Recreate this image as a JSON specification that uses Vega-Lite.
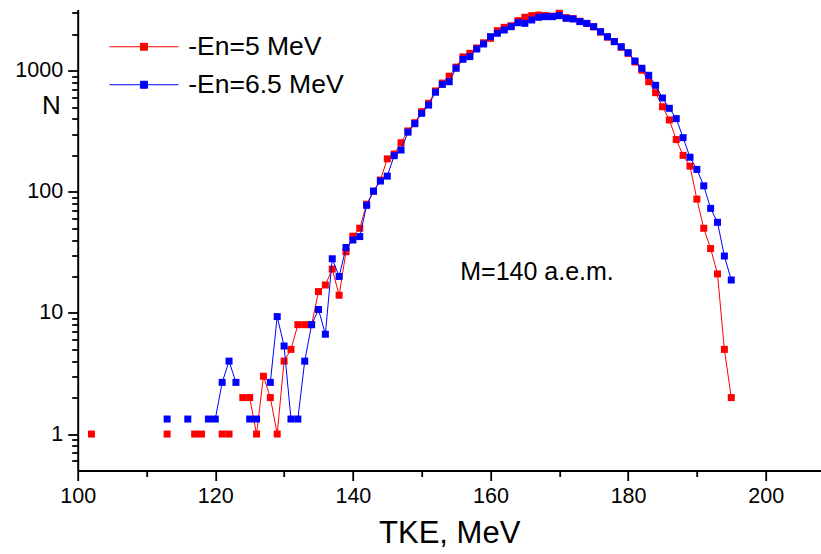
{
  "$schema": "https://vega.github.io/schema/vega-lite/v6.json",
  "width": 743,
  "height": 461,
  "autosize": {"type": "none"},
  "padding": {"left": 77.7, "top": 9.5, "right": 0.3, "bottom": 83.5},
  "background": "white",
  "config": {"view": {"stroke": null}, "font": "Liberation Sans"},
  "datasets": {
    "red": [
      {"E":102,"N":1},{"E":103,"N":null},{"E":113,"N":1},{"E":114,"N":null},{"E":117,"N":1},{"E":118,"N":1},{"E":119,"N":null},
      {"E":121,"N":1},{"E":122,"N":1},{"E":123,"N":null},{"E":124,"N":2},{"E":125,"N":2},{"E":126,"N":1},{"E":127,"N":3},
      {"E":128,"N":2},{"E":129,"N":1},{"E":130,"N":4},{"E":131,"N":5},{"E":132,"N":8},{"E":133,"N":8},{"E":134,"N":8},
      {"E":135,"N":15},{"E":136,"N":17},{"E":137,"N":23},{"E":138,"N":14},{"E":139,"N":32},{"E":140,"N":43},{"E":141,"N":50},
      {"E":142,"N":79},{"E":143,"N":101},{"E":144,"N":125},{"E":145,"N":187},{"E":146,"N":205},{"E":147,"N":254},{"E":148,"N":318},
      {"E":149,"N":372},{"E":150,"N":459},{"E":151,"N":538},{"E":152,"N":680},{"E":153,"N":790},{"E":154,"N":900},{"E":155,"N":1070},
      {"E":156,"N":1300},{"E":157,"N":1390},{"E":158,"N":1540},{"E":159,"N":1700},{"E":160,"N":1850},{"E":161,"N":2140},{"E":162,"N":2280},
      {"E":163,"N":2350},{"E":164,"N":2590},{"E":165,"N":2760},{"E":166,"N":2846},{"E":167,"N":2880},{"E":168,"N":2850},{"E":169,"N":2820},
      {"E":170,"N":2980},{"E":171,"N":2740},{"E":172,"N":2690},{"E":173,"N":2560},{"E":174,"N":2450},{"E":175,"N":2300},{"E":176,"N":2080},
      {"E":177,"N":1890},{"E":178,"N":1740},{"E":179,"N":1560},{"E":180,"N":1390},{"E":181,"N":1180},{"E":182,"N":1010},{"E":183,"N":811},
      {"E":184,"N":658},{"E":185,"N":504},{"E":186,"N":392},{"E":187,"N":270},{"E":188,"N":200},{"E":189,"N":163},{"E":190,"N":87},
      {"E":191,"N":50},{"E":192,"N":34},{"E":193,"N":21},{"E":194,"N":5},{"E":195,"N":2}
    ],
    "blue": [
      {"E":113,"N":1.33},{"E":114,"N":null},{"E":116,"N":1.33},{"E":117,"N":null},{"E":119,"N":1.33},{"E":120,"N":1.33},{"E":121,"N":2.67},
      {"E":122,"N":4},{"E":123,"N":2.67},{"E":124,"N":null},{"E":125,"N":1.33},{"E":126,"N":1.33},{"E":127,"N":null},{"E":128,"N":2.67},
      {"E":129,"N":9.33},{"E":130,"N":5.33},{"E":131,"N":1.33},{"E":132,"N":1.33},{"E":133,"N":4},{"E":134,"N":8},{"E":135,"N":10.67},
      {"E":136,"N":6.67},{"E":137,"N":28},{"E":138,"N":20},{"E":139,"N":34.7},{"E":140,"N":40},{"E":141,"N":42.7},{"E":142,"N":77.3},
      {"E":143,"N":101.3},{"E":144,"N":122.7},{"E":145,"N":134.7},{"E":146,"N":198.7},{"E":147,"N":221.3},{"E":148,"N":310.7},{"E":149,"N":365},
      {"E":150,"N":445},{"E":151,"N":520},{"E":152,"N":664},{"E":153,"N":770},{"E":154,"N":811},{"E":155,"N":1047},{"E":156,"N":1242},
      {"E":157,"N":1306},{"E":158,"N":1511},{"E":159,"N":1661},{"E":160,"N":1909},{"E":161,"N":2036},{"E":162,"N":2168},{"E":163,"N":2309},
      {"E":164,"N":2490},{"E":165,"N":2460},{"E":166,"N":2622},{"E":167,"N":2760},{"E":168,"N":2793},{"E":169,"N":2793},{"E":170,"N":2846},
      {"E":171,"N":2707},{"E":172,"N":2673},{"E":173,"N":2541},{"E":174,"N":2460},{"E":175,"N":2309},{"E":176,"N":2100},{"E":177,"N":1909},
      {"E":178,"N":1737},{"E":179,"N":1578},{"E":180,"N":1408},{"E":181,"N":1203},{"E":182,"N":1047},{"E":183,"N":916},{"E":184,"N":757},
      {"E":185,"N":595},{"E":186,"N":489},{"E":187,"N":402},{"E":188,"N":280},{"E":189,"N":193},{"E":190,"N":153},{"E":191,"N":112},
      {"E":192,"N":73},{"E":193,"N":56},{"E":194,"N":29.5},{"E":195,"N":18.7}
    ],
    "note": [
      {"E":155.6,"N":18.7,"t":"M=140 a.e.m."}
    ]
  },
  "encoding": {
    "x": {
      "field": "E", "type": "quantitative",
      "scale": {"domain": [100, 208], "nice": false, "zero": false},
      "axis": {
        "values": [100,110,120,130,140,150,160,170,180,190,200],
        "labelExpr": "datum.value % 20 == 0 ? datum.label : ''",
        "tickSize": {"condition": {"test": "datum.value % 20 == 0", "value": 10}, "value": 6},
        "title": "TKE, MeV", "titleFontSize": 31, "titleFontWeight": "normal", "titleColor": "black", "titlePadding": 11,
        "labelFontSize": 21.5, "labelColor": "black", "labelPadding": 5, "labelOverlap": false, "labelFlush": false,
        "domainColor": "black", "domainWidth": 2, "tickColor": "black", "tickWidth": 1.8, "grid": false
      }
    },
    "y": {
      "field": "N", "type": "quantitative",
      "scale": {"type": "log", "domain": [0.5, 3200], "nice": false},
      "axis": {
        "values": [0.6,0.7,0.8,0.9,1,2,3,4,5,6,7,8,9,10,20,30,40,50,60,70,80,90,100,200,300,400,500,600,700,800,900,1000,2000,3000],
        "labelExpr": "(datum.value == 1 || datum.value == 10 || datum.value == 100 || datum.value == 1000) ? format(datum.value, 'd') : ''",
        "tickSize": {"condition": {"test": "datum.value == 1 || datum.value == 10 || datum.value == 100 || datum.value == 1000", "value": 10}, "value": 6},
        "title": "N", "titleAngle": 0, "titleX": -26.7, "titleY": 96, "titleAlign": "center", "titleBaseline": "middle",
        "titleFontSize": 26, "titleFontWeight": "normal", "titleColor": "black",
        "labelFontSize": 21.5, "labelColor": "black", "labelPadding": 5, "labelOverlap": false, "labelFlush": false,
        "domainColor": "black", "domainWidth": 2, "tickColor": "black", "tickWidth": 1.8, "grid": false
      }
    }
  },
  "layer": [
    {"data": {"name": "red"}, "mark": {"type": "line", "color": "#ff0000", "strokeWidth": 1}},
    {"data": {"name": "red"}, "mark": {"type": "point", "shape": "square", "filled": true, "size": 49, "opacity": 1},
     "encoding": {"color": {"datum": "-En=5 MeV", "type": "nominal",
        "scale": {"domain": ["-En=5 MeV", "-En=6.5 MeV"], "range": ["#ff0000", "#0000ff"]},
        "legend": {
          "title": null, "orient": "none", "legendX": 53, "legendY": 24, "padding": 0,
          "symbolType": "M-9.86,0H9.86M-1,-1H1V1H-1Z", "symbolSize": 49, "symbolStrokeWidth": 1, "symbolOpacity": 1,
          "labelFontSize": 26.5, "labelColor": "black", "labelOffset": 31, "rowPadding": 11, "labelLimit": 400,
          "encode": {"symbols": {"update": {"stroke": {"scale": "color", "field": "value"}, "fill": {"scale": "color", "field": "value"}}}}
        }}}},
    {"data": {"name": "blue"}, "mark": {"type": "line", "color": "#0000ff", "strokeWidth": 1}},
    {"data": {"name": "blue"}, "mark": {"type": "point", "shape": "square", "filled": true, "size": 49, "opacity": 1},
     "encoding": {"color": {"datum": "-En=6.5 MeV", "type": "nominal"}}},
    {"data": {"name": "note"},
     "mark": {"type": "text", "align": "left", "baseline": "alphabetic", "fontSize": 25, "color": "black"},
     "encoding": {"text": {"field": "t", "type": "nominal"}}}
  ]
}
